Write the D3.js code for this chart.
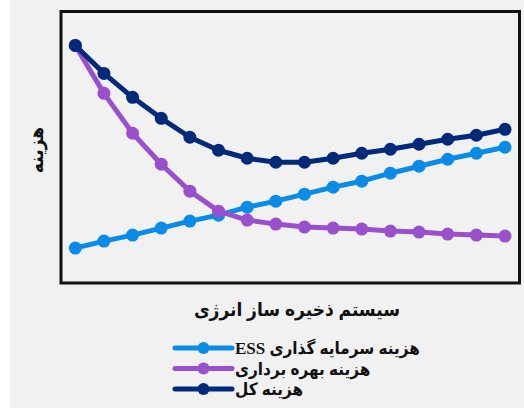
<!DOCTYPE html>
<html>
<head>
<meta charset="utf-8">
<script src="https://cdn.jsdelivr.net/npm/d3@7"></script>
<style>
  html, body { margin: 0; padding: 0; background: #fff; }
  svg { display: block; }
</style>
</head>
<body>
<script>
// Energy storage system size steps (unlabelled on the axis)
const steps = d3.range(1, 17);

// Cost curves in relative units
const capitalCost = [35, 42, 48, 55, 62, 68, 76, 82, 89, 96, 102, 110, 117, 124, 130, 136];
const operationCost = [238, 190, 150, 119, 92, 72, 63, 59, 56, 55, 54, 52, 51, 49, 48, 47];
const totalCost = [238, 210, 186, 165, 146, 133, 125, 121, 121, 125, 130, 134, 139, 144, 148, 154];

const seriesNames = ["هزینه سرمایه گذاری ESS", "هزینه بهره برداری", "هزینه کل"];
const seriesColors = ["#0a8be8", "#9a50cc", "#00297a"];
const xTitle = "سیستم ذخیره ساز انرژی";
const yTitle = "هزینه";

const W = 524, H = 408;
const frame = { left: 61, top: 11.5, right: 519.5, bottom: 283 };

const svg = d3.select("body").append("svg").attr("width", W).attr("height", H);

svg.append("rect").attr("x", 10).attr("y", 0).attr("width", W - 10).attr("height", H)
  .attr("fill", "#f1f1f1");

const x = d3.scalePoint().domain(steps).range([75.3, 505]);
const y = d3.scaleLinear().domain([0, 272]).range([frame.bottom, frame.top]);

const series = [capitalCost, operationCost, totalCost].map((vals, i) => ({
  name: seriesNames[i], color: seriesColors[i],
  points: vals.map((v, j) => ({ step: steps[j], value: v }))
}));

const line = d3.line().x(d => x(d.step)).y(d => y(d.value));

const plot = svg.append("g");
series.forEach(s => {
  const g = plot.append("g");
  g.append("path").datum(s.points)
    .attr("d", line).attr("fill", "none")
    .attr("stroke", s.color).attr("stroke-width", 5)
    .attr("stroke-linejoin", "round");
  g.selectAll("circle").data(s.points).join("circle")
    .attr("cx", d => x(d.step)).attr("cy", d => y(d.value))
    .attr("r", 6.5).attr("fill", s.color);
});

// Plot frame
svg.append("rect")
  .attr("x", frame.left).attr("y", frame.top)
  .attr("width", frame.right - frame.left).attr("height", frame.bottom - frame.top)
  .attr("fill", "none").attr("stroke", "#111").attr("stroke-width", 3);

const font = "'Liberation Serif', 'DejaVu Sans Condensed', 'DejaVu Sans', serif";

// Axis titles
svg.append("text")
  .attr("x", 297).attr("y", 316)
  .attr("direction", "rtl").attr("text-anchor", "middle")
  .attr("font-family", font).attr("font-weight", "bold").attr("font-size", 19)
  .attr("fill", "#111").text(xTitle);

svg.append("text")
  .attr("transform", "translate(43,150) rotate(-90)")
  .attr("direction", "rtl").attr("text-anchor", "middle")
  .attr("font-family", font).attr("font-weight", "bold").attr("font-size", 19)
  .attr("fill", "#111").text(yTitle);

// Legend
const legend = svg.append("g");
series.forEach((s, i) => {
  const ly = 348 + i * 20.5;
  legend.append("line").attr("x1", 175).attr("x2", 232).attr("y1", ly).attr("y2", ly)
    .attr("stroke", s.color).attr("stroke-width", 5).attr("stroke-linecap", "round");
  legend.append("circle").attr("cx", 203.5).attr("cy", ly).attr("r", 6).attr("fill", s.color);
  legend.append("text")
    .attr("x", 235).attr("y", ly + 6)
    .attr("direction", "rtl").attr("text-anchor", "end")
    .attr("font-family", font).attr("font-weight", "bold").attr("font-size", 17)
    .attr("fill", "#111").text(s.name);
});
</script>
</body>
</html>
